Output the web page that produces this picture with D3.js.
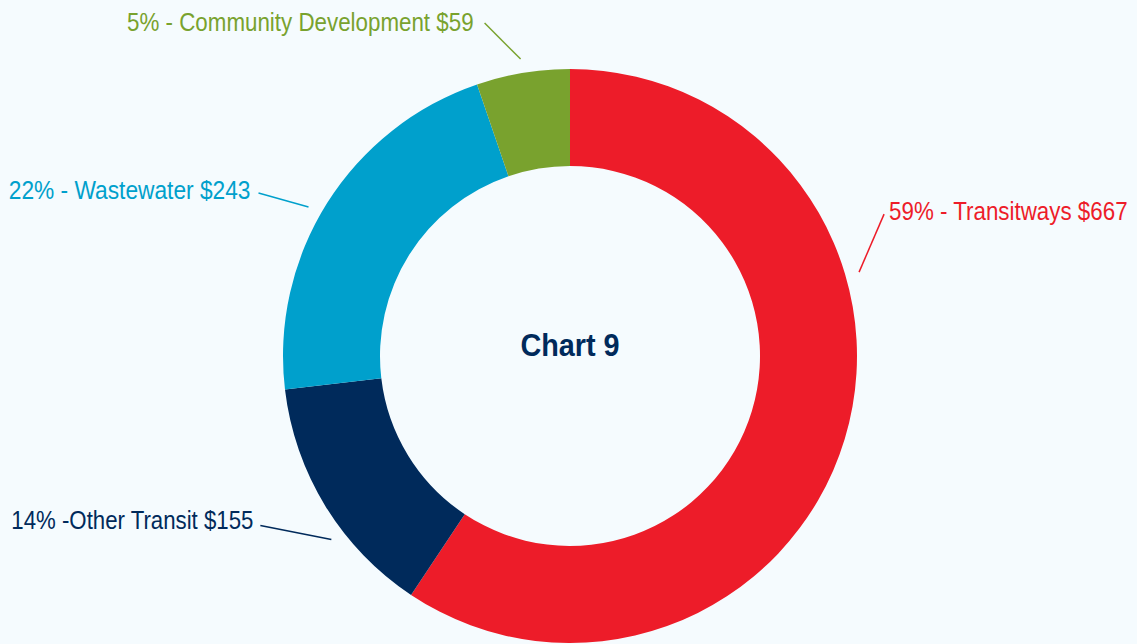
<!DOCTYPE html>
<html><head><meta charset="utf-8">
<script src="https://cdn.jsdelivr.net/npm/d3@7"></script>
<style>
html,body{margin:0;padding:0;background:#f5fbfe;}
svg{display:block;}
text{font-family:"Liberation Sans","Arial","Helvetica",sans-serif;}
</style></head>
<body>
<svg id="chart" width="1137" height="644"></svg>
<script>
const categories = ["Transitways", "Other Transit", "Wastewater", "Community Development"];
const values = [667, 155, 243, 59];
const percents = ["59%", "14%", "22%", "5%"];
const labels = ["59% - Transitways $667", "14% -Other Transit $155", "22% - Wastewater $243", "5% - Community Development $59"];
const colors = ["#ed1c29", "#002a5b", "#00a0cc", "#79a22e"];
const title = "Chart 9";

const W = 1137, H = 644;
const cx = 570, cy = 356, rOuter = 287, rInner = 190;
const svg = d3.select("#chart");
svg.append("rect").attr("width", W).attr("height", H).attr("fill", "#f5fbfe");
const g = svg.append("g").attr("transform", `translate(${cx},${cy})`);

const data = categories.map((c, i) => ({cat: c, value: values[i], label: labels[i], color: colors[i]}));
const pie = d3.pie().value(d => d.value).sort(null);
const arc = d3.arc().innerRadius(rInner).outerRadius(rOuter);
const arcs = pie(data);

g.selectAll("path.slice").data(arcs).enter().append("path")
  .attr("class", "slice").attr("d", arc).attr("fill", d => d.data.color);

// label layout: leader start angle offset (deg), leader vector, text side, text scale
const layout = [
  {angleOffset: -33, lead: [25, -58], anchor: "start", tdx: 5, tdy: 6, sx: 0.86},
  {angleOffset: -6, lead: [-71, -14], anchor: "end", tdx: -7, tdy: 4, sx: 0.855},
  {angleOffset: -2.5, lead: [-50, -14], anchor: "end", tdx: -8, tdy: 6, sx: 0.875},
  {angleOffset: 0, lead: [-36, -36], anchor: "end", tdx: -11, tdy: 8, sx: 0.86}
];
const rLead = 301;
arcs.forEach((a, i) => {
  const L = layout[i];
  const ang = (a.startAngle + a.endAngle) / 2 + L.angleOffset * Math.PI / 180;
  const x0 = Math.sin(ang) * rLead, y0 = -Math.cos(ang) * rLead;
  const x1 = x0 + L.lead[0], y1 = y0 + L.lead[1];
  g.append("line").attr("x1", x0).attr("y1", y0).attr("x2", x1).attr("y2", y1)
    .attr("stroke", a.data.color).attr("stroke-width", 1.5);
  g.append("g").attr("transform", `translate(${x1 + L.tdx},${y1 + L.tdy}) scale(${L.sx},1)`)
    .append("text").attr("x", 0).attr("y", 0)
    .attr("text-anchor", L.anchor).attr("fill", a.data.color)
    .attr("font-size", 26).text(a.data.label);
});

g.append("g").attr("transform", `translate(0,0) scale(0.9,1)`)
  .append("text").attr("x", 0).attr("y", 0)
  .attr("text-anchor", "middle").attr("fill", "#002a5b")
  .attr("font-size", 32).attr("font-weight", "bold").text(title);
</script>
</body></html>
